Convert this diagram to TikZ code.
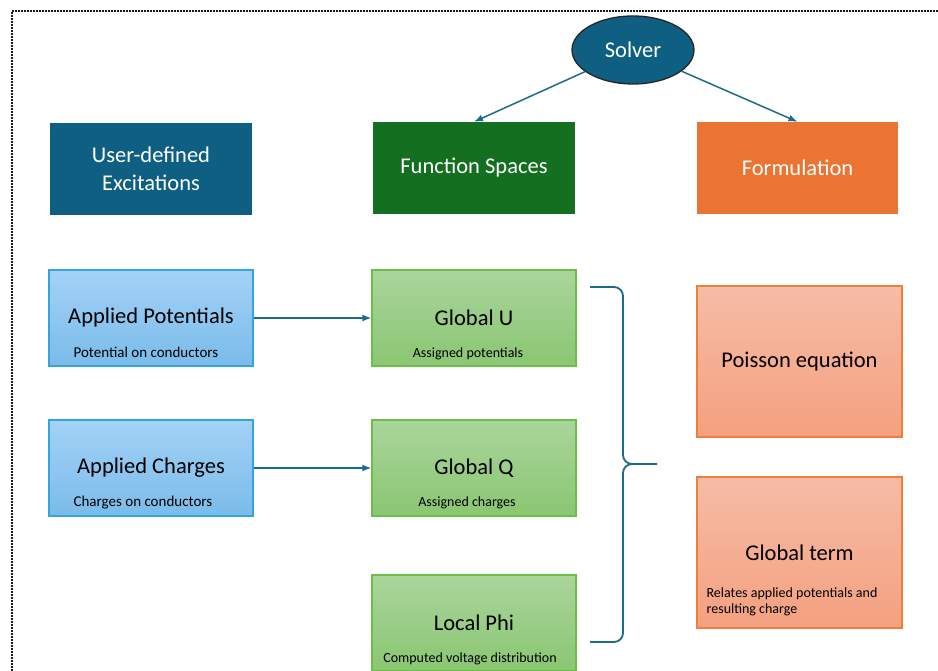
\documentclass[tikz,border=0pt]{standalone}
\usepackage{fontspec}
\setmainfont{Carlito}
\usetikzlibrary{positioning}
\usetikzlibrary{positioning,shapes.geometric,arrows.meta}
\definecolor{solverblue}{RGB}{15,95,131}
\definecolor{spacegreen}{RGB}{20,111,33}
\definecolor{formorange}{RGB}{236,116,50}
\definecolor{linkteal}{RGB}{27,107,143}
\definecolor{bluetop}{RGB}{163,210,246}
\definecolor{bluebot}{RGB}{122,187,234}
\definecolor{blueedge}{RGB}{52,164,222}
\definecolor{greentop}{RGB}{170,213,156}
\definecolor{greenbot}{RGB}{138,198,114}
\definecolor{greenedge}{RGB}{107,190,72}
\definecolor{salmontop}{RGB}{246,188,166}
\definecolor{salmonbot}{RGB}{244,160,127}
\definecolor{salmonedge}{RGB}{239,125,59}
\tikzset{head/.style={rectangle, minimum width=202pt, minimum height=92pt, align=center, text=white, font=\fontsize{22.5}{28}\selectfont}}

\begin{document}
\begin{tikzpicture}[
    x=1pt, y=1pt,
    >=Latex,
    line/.style={draw=linkteal, -{Latex[length=9pt,width=7pt]}, line width=1.5pt},
    card/.style={
        draw,
        line width=1.2pt,
        rectangle,
        minimum width=204pt,
        minimum height=96pt,
        align=center,
        font=\fontsize{22.5}{27}\selectfont
    },
    note/.style={
        inner sep=0pt,
        align=left,
        font=\fontsize{14}{16}\selectfont
    },
    bignote/.style={note, font=\fontsize{15}{16}\selectfont}
]
\useasboundingbox (0,0) rectangle (938,671);
\clip (0,0) rectangle (938,671);
% Dotted frame
\draw[black!90, line width=1.8pt, dash pattern=on 1.6pt off 1.4pt] (950,660) -- (12,660) -- (12,-10);
% Headers
\node[head, fill=solverblue] (exc) at (151,502) {User-defined\\Excitations};
\node[head, fill=spacegreen] (fs) at (474,503) {Function Spaces};
\node[head, fill=formorange, minimum width=201pt] (form) at (797.5,503) {Formulation};
\node[ellipse, draw=black!85, line width=1.3pt, fill=solverblue, minimum width=122pt, minimum height=68pt,
      text=white, font=\fontsize{22.5}{27}\selectfont] (solver) at (633,621) {Solver};
% Excitations
\node[card, draw=blueedge, top color=bluetop, bottom color=bluebot] (pot) at (151,353) {Applied Potentials};
\node[card, draw=blueedge, top color=bluetop, bottom color=bluebot] (chg) at (151,203) {Applied Charges};
\node[bignote, anchor=west] (potnote) at ([xshift=25pt,yshift=14pt]pot.south west) {Potential on conductors};
\node[bignote, anchor=west] (chgnote) at ([xshift=25pt,yshift=14pt]chg.south west) {Charges on conductors};
% Function spaces
\node[card, draw=greenedge, top color=greentop, bottom color=greenbot] (gu) at (474,353) {Global U};
\node[card, draw=greenedge, top color=greentop, bottom color=greenbot] (gq) at (474,203) {Global Q};
\node[card, draw=greenedge, top color=greentop, bottom color=greenbot] (phi) at (474,48) {Local Phi};
\node[note] (gunote) at ([xshift=-6pt,yshift=13pt]gu.south) {Assigned potentials};
\node[note] (gqnote) at ([xshift=-7pt,yshift=14pt]gq.south) {Assigned charges};
\node[note] (phinote) at ([xshift=-4pt,yshift=13pt]phi.south) {Computed voltage distribution};
% Formulation
\node[card, draw=salmonedge, top color=salmontop, bottom color=salmonbot, minimum width=205pt, minimum height=151pt] (poi) at (799.5,309.5) {Poisson equation};
\node[card, draw=salmonedge, top color=salmontop, bottom color=salmonbot, minimum width=205pt, minimum height=151pt] (gt) at (799.5,118.5) {Global term};
\node[note, anchor=west] (gtnote) at ([xshift=10pt,yshift=27pt]gt.south west) {Relates applied potentials and\\resulting charge};
% Connections
\draw[line] (solver) -- (fs.north);
\draw[line] (solver) -- (form.north);
\draw[line] (pot) -- (gu);
\draw[line] (chg) -- (gq);
% Brace
\coordinate (bracetop) at (590,384);
\coordinate (bracebot) at (590,29);
\coordinate (spine) at (623,207);
\coordinate (bracetip) at (657,207);
\draw[linkteal, line width=1.8pt, rounded corners=9pt] (bracetop) -| (spine) -- (bracetip);
\draw[linkteal, line width=1.8pt, rounded corners=9pt] (bracebot) -| (spine) -- (bracetip);
\end{tikzpicture}
\end{document}
